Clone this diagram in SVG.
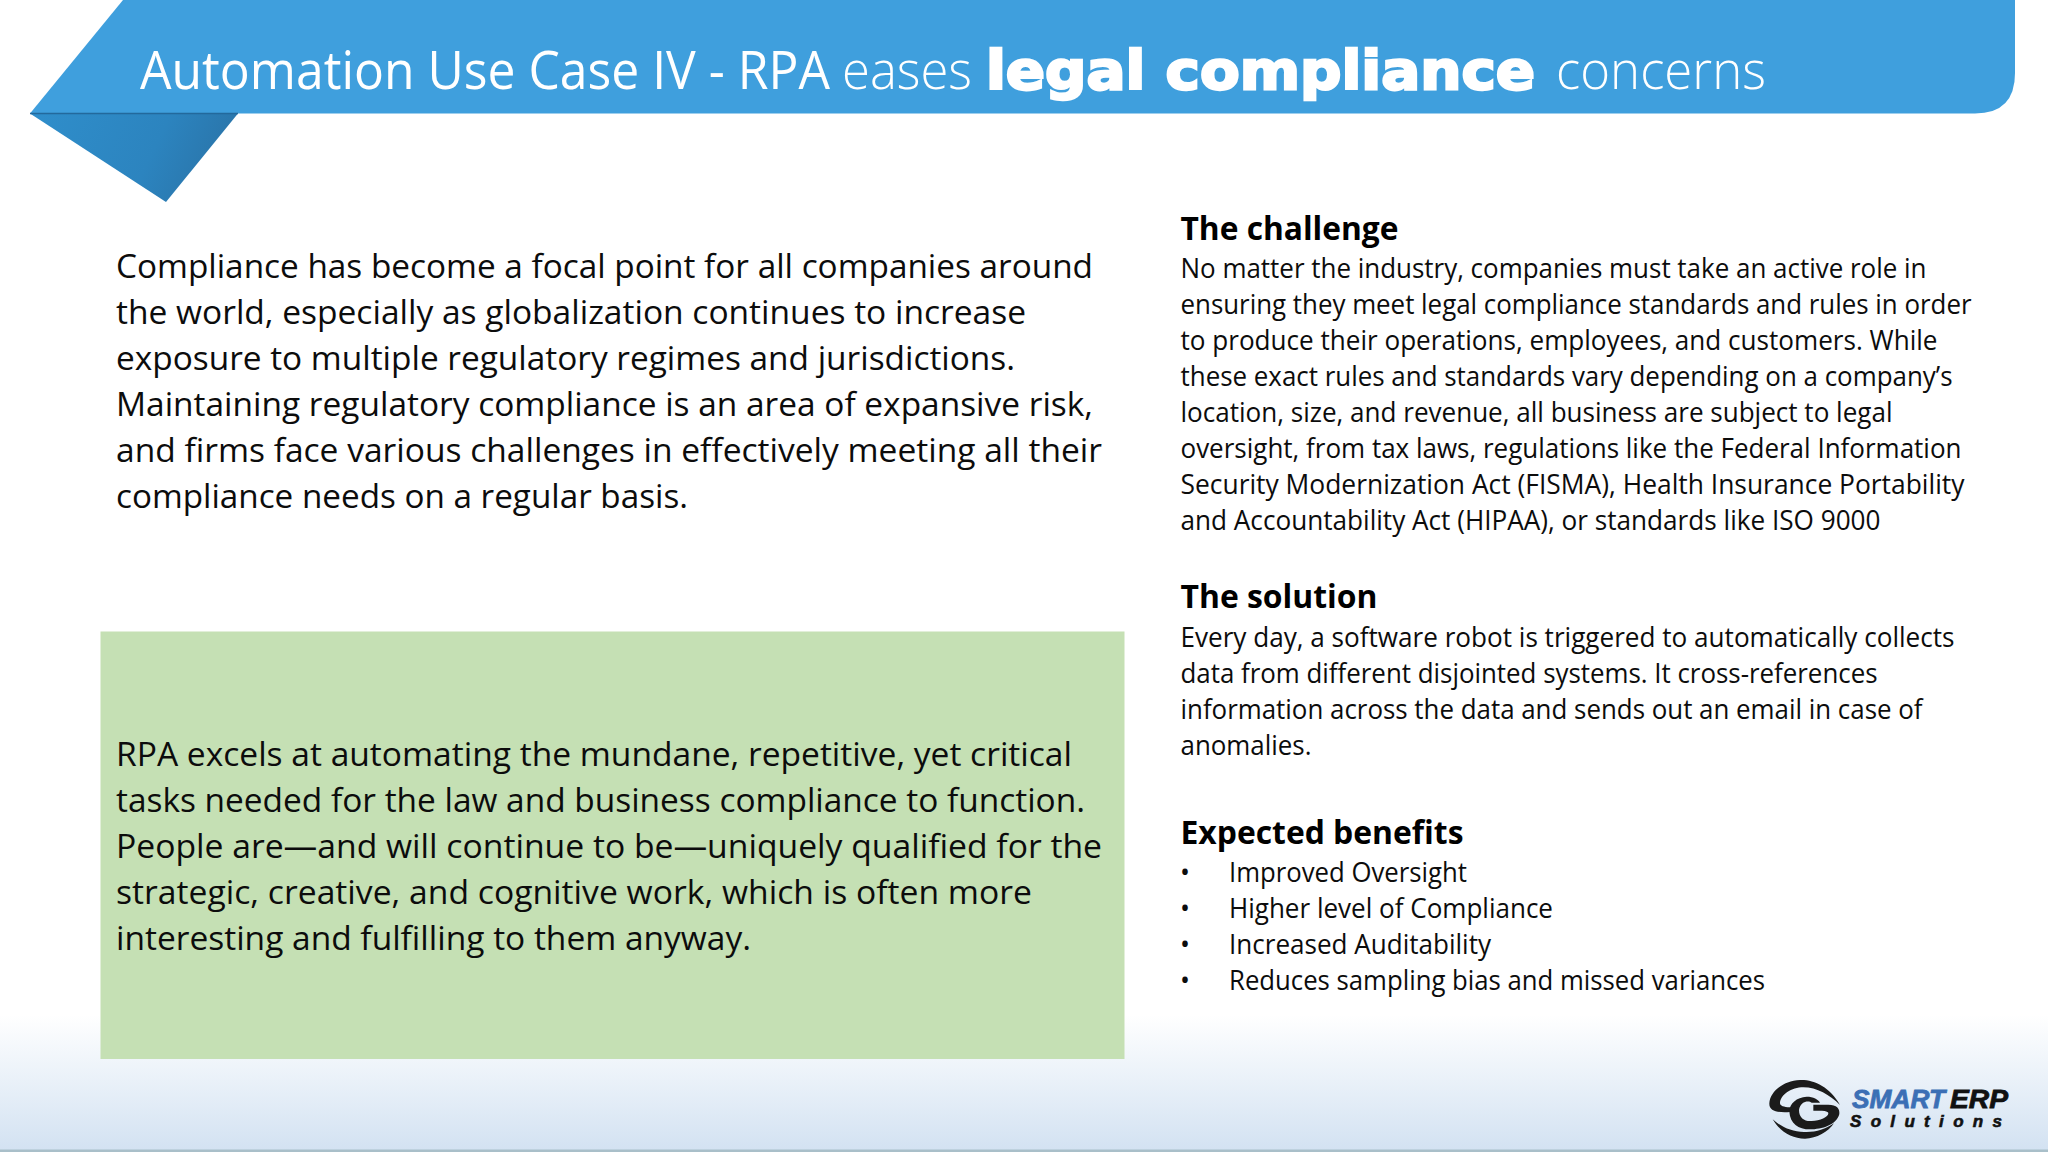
<svg xmlns="http://www.w3.org/2000/svg" width="2048" height="1152" viewBox="0 0 2048 1152">
<defs>
<linearGradient id="bg" x1="0" y1="0" x2="0" y2="1"><stop offset="0" stop-color="#ffffff"/><stop offset="1" stop-color="#d3e2f2"/></linearGradient>
<linearGradient id="fold" x1="0" y1="0" x2="1" y2="0.2"><stop offset="0" stop-color="#2f8ecb"/><stop offset="0.65" stop-color="#2c84bf"/><stop offset="1" stop-color="#2a75aa"/></linearGradient>
</defs>
<style>
.t{font-family:"Open Sans","Noto Sans","Liberation Sans",sans-serif;fill:#fff;font-size:53px}
.l{font-weight:300}
.b{font-family:"DejaVu Sans",sans-serif;font-weight:700;stroke:#fff;stroke-width:2.5px}
.body{font-family:"Open Sans","Noto Sans",sans-serif;fill:#0c0c0c}
.lg{font-size:33.5px}
.r{font-size:26.5px}
.h{font-size:33px;font-weight:700;fill:#000}
.lt{font-family:"Liberation Sans",sans-serif;font-weight:700;font-style:italic}
</style>
<rect width="2048" height="1152" fill="#fff"/>
<rect y="1015" width="2048" height="135" fill="url(#bg)"/>
<rect y="1149.500" width="2048" height="2.500" fill="#a9bfc9"/>
<g id="ribbon">
<path d="M30 113.500L166 202L238 113.500Z" fill="url(#fold)"/>
<path d="M123 0H2015V73Q2015 113.500 1975 113.500H30Z" fill="#3f9fdd"/>
<path d="M30 113.500H238" stroke="#23699c" stroke-width="1.500"/>
</g>
<g id="title">
<text class="t" transform="translate(140 89) scale(.938 1)" textLength="735.600" lengthAdjust="spacingAndGlyphs">Automation Use Case IV - RPA</text>
<text class="t l" transform="translate(842 89) scale(.93 1)" textLength="139.800" lengthAdjust="spacingAndGlyphs">eases</text>
<text class="t b" x="986" y="89" textLength="549" lengthAdjust="spacingAndGlyphs">legal compliance</text>
<text class="t l" transform="translate(1556 89) scale(.937 1)" textLength="224.100" lengthAdjust="spacingAndGlyphs">concerns</text>
</g>
<g id="intro" class="body lg">
<text x="116" y="278" textLength="977" lengthAdjust="spacingAndGlyphs">Compliance has become a focal point for all companies around</text>
<text x="116" y="324" textLength="910" lengthAdjust="spacingAndGlyphs">the world, especially as globalization continues to increase</text>
<text x="116" y="370" textLength="899" lengthAdjust="spacingAndGlyphs">exposure to multiple regulatory regimes and jurisdictions.</text>
<text x="116" y="416" textLength="977" lengthAdjust="spacingAndGlyphs">Maintaining regulatory compliance is an area of expansive risk,</text>
<text x="116" y="462" textLength="986" lengthAdjust="spacingAndGlyphs">and firms face various challenges in effectively meeting all their</text>
<text x="116" y="508" textLength="572" lengthAdjust="spacingAndGlyphs">compliance needs on a regular basis.</text>
</g>
<g id="callout">
<rect x="100.500" y="631.500" width="1024" height="427.500" fill="#c5e0b4"/>
<g class="body lg">
<text x="116" y="766" textLength="956" lengthAdjust="spacingAndGlyphs">RPA excels at automating the mundane, repetitive, yet critical</text>
<text x="116" y="812" textLength="969" lengthAdjust="spacingAndGlyphs">tasks needed for the law and business compliance to function.</text>
<text x="116" y="858" textLength="986" lengthAdjust="spacingAndGlyphs">People are—and will continue to be—uniquely qualified for the</text>
<text x="116" y="904" textLength="916" lengthAdjust="spacingAndGlyphs">strategic, creative, and cognitive work, which is often more</text>
<text x="116" y="950" textLength="635" lengthAdjust="spacingAndGlyphs">interesting and fulfilling to them anyway.</text>
</g>
</g>
<g id="challenge" class="body r">
<text class="h" x="1180.500" y="240" textLength="218" lengthAdjust="spacingAndGlyphs">The challenge</text>
<text x="1180.500" y="278" textLength="746" lengthAdjust="spacingAndGlyphs">No matter the industry, companies must take an active role in</text>
<text x="1180.500" y="314" textLength="791" lengthAdjust="spacingAndGlyphs">ensuring they meet legal compliance standards and rules in order</text>
<text x="1180.500" y="350" textLength="757" lengthAdjust="spacingAndGlyphs">to produce their operations, employees, and customers. While</text>
<text x="1180.500" y="386" textLength="772" lengthAdjust="spacingAndGlyphs">these exact rules and standards vary depending on a company’s</text>
<text x="1180.500" y="422" textLength="712" lengthAdjust="spacingAndGlyphs">location, size, and revenue, all business are subject to legal</text>
<text x="1180.500" y="458" textLength="781" lengthAdjust="spacingAndGlyphs">oversight, from tax laws, regulations like the Federal Information</text>
<text x="1180.500" y="494" textLength="784" lengthAdjust="spacingAndGlyphs">Security Modernization Act (FISMA), Health Insurance Portability</text>
<text x="1180.500" y="530" textLength="700" lengthAdjust="spacingAndGlyphs">and Accountability Act (HIPAA), or standards like ISO 9000</text>
</g>
<g id="solution" class="body r">
<text class="h" x="1180.500" y="608" textLength="197" lengthAdjust="spacingAndGlyphs">The solution</text>
<text x="1180.500" y="647" textLength="774" lengthAdjust="spacingAndGlyphs">Every day, a software robot is triggered to automatically collects</text>
<text x="1180.500" y="683" textLength="697" lengthAdjust="spacingAndGlyphs">data from different disjointed systems. It cross-references</text>
<text x="1180.500" y="719" textLength="742" lengthAdjust="spacingAndGlyphs">information across the data and sends out an email in case of</text>
<text x="1180.500" y="755" textLength="131" lengthAdjust="spacingAndGlyphs">anomalies.</text>
</g>
<g id="benefits" class="body r">
<text class="h" x="1180.500" y="844" textLength="283" lengthAdjust="spacingAndGlyphs">Expected benefits</text>
<text x="1180" y="882">•</text><text x="1229" y="882" textLength="238" lengthAdjust="spacingAndGlyphs">Improved Oversight</text>
<text x="1180" y="918">•</text><text x="1229" y="918" textLength="324" lengthAdjust="spacingAndGlyphs">Higher level of Compliance</text>
<text x="1180" y="954">•</text><text x="1229" y="954" textLength="262" lengthAdjust="spacingAndGlyphs">Increased Auditability</text>
<text x="1180" y="990">•</text><text x="1229" y="990" textLength="536" lengthAdjust="spacingAndGlyphs">Reduces sampling bias and missed variances</text>
</g>
<g id="logo">
<g transform="translate(1700 1040) scale(.33333)" fill="#1b1b1b">
<path d="M420 195C390 140 340 118 300 120C250 122 210 155 208 190C207 215 235 218 270 216L290 200C262 205 240 200 240 190C240 165 275 142 310 142C350 142 390 165 420 195Z"/>
<path d="M340 194L385 194C410 194 420 205 418 222C410 255 365 268 330 268C295 268 270 250 268 215C268 190 290 172 320 170C340 170 355 178 360 188L335 188C325 180 300 185 297 210C297 235 315 245 335 243C360 242 385 232 385 220C385 212 370 212 340 212Z"/>
<path d="M218 238C240 275 275 296 315 296C350 296 385 275 402 250C375 268 345 278 312 276C275 275 245 262 218 238Z"/>
</g>
<text class="lt" x="1852" y="1108" font-size="26" fill="#3b6fb5" stroke="#3b6fb5" stroke-width=".8" textLength="93" lengthAdjust="spacingAndGlyphs">SMART</text>
<text class="lt" x="1950" y="1108" font-size="26" fill="#111" stroke="#111" stroke-width=".8" textLength="58" lengthAdjust="spacingAndGlyphs">ERP</text>
<text class="lt" x="1850" y="1127" font-size="17" fill="#111" stroke="#111" stroke-width=".6" textLength="152">Solutions</text>
</g>
</svg>
